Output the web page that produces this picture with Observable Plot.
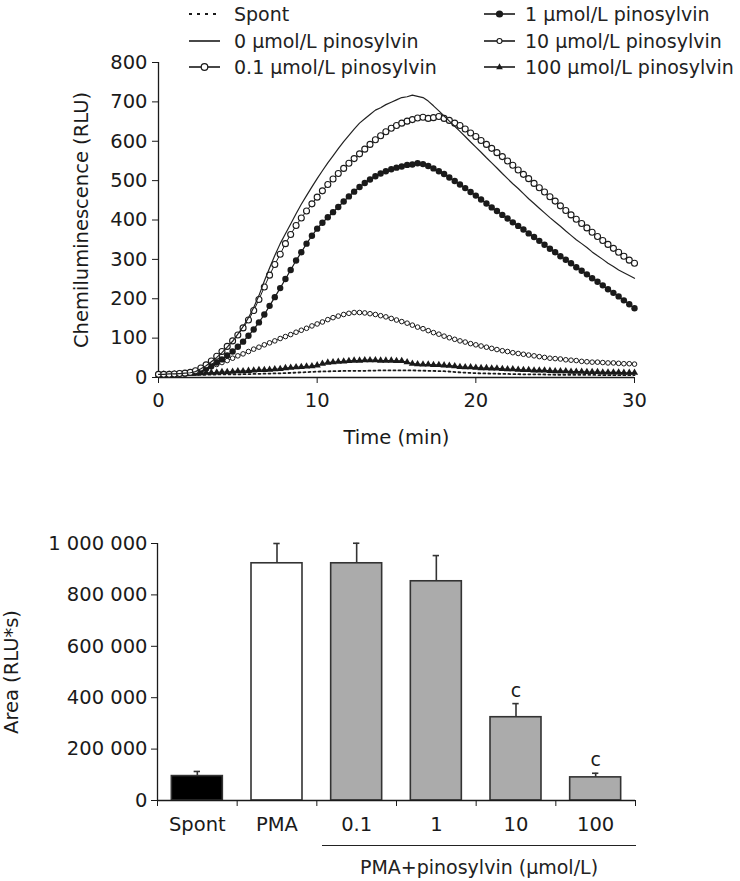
<!DOCTYPE html>
<html>
<head>
<meta charset="utf-8">
<script src="https://cdn.jsdelivr.net/npm/d3@7"></script>
<script src="https://cdn.jsdelivr.net/npm/@observablehq/plot@0.6"></script>
<style>
  body { margin: 0; background: #fff; }
  #wrap { position: relative; width: 740px; height: 881px; font-family: "DejaVu Sans", sans-serif; color: #222; background: #fff; }
  #topChart, #bottomChart { position: absolute; left: 0; }
  #topChart { top: 0; }
  #bottomChart { top: 470px; }
  .lg { position: absolute; display: flex; align-items: center; font-size: 19px; line-height: 22px; height: 22px; white-space: nowrap; color: #222; }
  .lg svg { flex: none; }
  #bracket { position: absolute; left: 322px; top: 845px; width: 314px; border-top: 1.5px solid #222; text-align: center; font-size: 19px; line-height: 22px; padding-top: 10px; color: #222; }
</style>
</head>
<body>
<div id="wrap">
  <div id="topChart"></div>
  <div id="bottomChart"></div>
  <div id="legend"></div>
  <div id="bracket"></div>
</div>
<script>
// ---------------- data: kinetics (top panel), readings every 20 s ----------------
const TIME = [0,0.33,0.67, 1,1.33,1.67, 2,2.33,2.67, 3,3.33,3.67, 4,4.33,4.67, 5,5.33,5.67, 6,6.33,6.67, 7,7.33,7.67, 8,8.33,8.67, 9,9.33,9.67,
  10,10.33,10.67, 11,11.33,11.67, 12,12.33,12.67, 13,13.33,13.67, 14,14.33,14.67, 15,15.33,15.67, 16,16.33,16.67, 17,17.33,17.67, 18,18.33,18.67, 19,19.33,19.67,
  20,20.33,20.67, 21,21.33,21.67, 22,22.33,22.67, 23,23.33,23.67, 24,24.33,24.67, 25,25.33,25.67, 26,26.33,26.67, 27,27.33,27.67, 28,28.33,28.67, 29,29.33,29.67, 30];
const SPONT_TIME = [0,1,2,3,4,5,6,7,8,9,10,11,12,13,14,15,16,17,18,19,20,21,22,23,24,25,26,27,28,29,30];
const SPONT = [6,6,7,7,8,8,9,10,11,13,15,16,17,17,18,18,18,17,16,13,11,10,9,8,8,7,7,7,6,6,6];
const PMA0 = [8,8,9, 9,10,11, 12,15,22, 30,40,51, 63,77,92, 110,129,152, 178,208,245, 278,310,340, 365,390,416, 440,462,484,
  505,525,545, 563,581,599, 615,631,646, 657,668,679, 685,693,699, 705,711,713, 717,714,711, 702,690,677, 664,651,638, 625,612,598,
  585,572,558, 545,532,518, 505,492,480, 467,454,442, 430,418,406, 395,384,372, 361,350,340, 330,319,309, 300,290,282, 273,266,259, 252];
const PIN01 = [8,8,8, 9,10,11, 13,17,24, 32,42,54, 66,79,93, 108,126,146, 170,198,230, 260,287,313, 340,363,386, 405,423,441,
  458,474,490, 504,518,531, 544,556,568, 580,592,604, 614,624,633, 640,646,651, 655,659,661, 658,660,663, 658,653,646, 640,631,621,
  612,602,592, 582,571,561, 550,539,527, 516,505,493, 482,471,459, 448,436,424, 413,402,391, 380,369,358, 348,338,328, 318,308,298, 290];
const PIN1 = [8,8,8, 9,10,10, 12,14,19, 23,29,38, 46,56,66, 78,91,106, 122,140,160, 182,204,227, 250,273,297, 318,340,360,
  378,393,407, 420,433,447, 460,472,484, 494,503,511, 518,524,529, 533,536,540, 541,544,542, 537,531,524, 517,508,499, 490,481,471,
  462,452,442, 432,423,413, 404,394,385, 376,366,357, 347,337,327, 318,308,299, 290,280,271, 262,252,243, 234,224,215, 206,196,186, 176];
const PIN10 = [8,8,8, 9,10,10, 12,14,18, 22,27,33, 38,43,49, 55,60,66, 72,77,83, 88,93,99, 104,109,115, 120,125,131,
  136,141,147, 152,156,160, 163,165,165, 164,162,160, 157,154,150, 146,142,138, 133,128,124, 119,114,110, 105,101,97, 93,90,86,
  83,80,77, 74,71,68, 66,63,61, 59,57,55, 53,51,49, 48,47,45, 44,43,41, 40,39,39, 38,37,37, 36,35,35, 34];
const PIN100 = [8,8,8, 8,9,9, 10,10,11, 12,12,13, 14,14,15, 16,16,17, 18,19,19, 20,21,22, 24,25,26, 27,28,29,
  31,35,38, 39,40,41, 42,43,43, 44,44,44, 43,43,43, 42,42,39, 35,34,33, 33,32,32, 31,30,29, 27,26,26,
  25,24,24, 23,23,22, 21,21,20, 19,19,18, 18,18,17, 16,16,16, 15,15,15, 14,14,14, 13,13,13, 13,12,12, 12];
const SERIES_NAMES = ["Spont", "0 µmol/L pinosylvin", "0.1 µmol/L pinosylvin", "1 µmol/L pinosylvin", "10 µmol/L pinosylvin", "100 µmol/L pinosylvin"];
const X_TICKS_TOP = [0, 10, 20, 30];
const Y_TICKS_TOP = [0, 100, 200, 300, 400, 500, 600, 700, 800];
const X_LABEL_TOP = "Time (min)";
const Y_LABEL_TOP = "Chemiluminescence (RLU)";

// ---------------- data: area (bottom panel) ----------------
const BAR_LABELS = ["Spont", "PMA", "0.1", "1", "10", "100"];
const BAR_MEANS = [95000, 923000, 923000, 853000, 324000, 90000];
const BAR_ERRORS = [18000, 77000, 78000, 100000, 53000, 16000];
const BAR_SIG = ["", "", "", "", "c", "c"];
const Y_TICKS_BOTTOM = [0, 200000, 400000, 600000, 800000, 1000000];
const Y_LABEL_BOTTOM = "Area (RLU*s)";
const GROUP_LABEL = "PMA+pinosylvin (µmol/L)";

// ---------------- styles ----------------
const INK = "#1a1a1a";
const BAR_FILLS = ["#000000", "#ffffff", "#ababab", "#ababab", "#ababab", "#ababab"];
const FONT = "'DejaVu Sans', sans-serif";

const rows = (xs, ys) => xs.map((x, i) => ({x, y: ys[i]}));
const rSpont = rows(SPONT_TIME, SPONT);
const r0 = rows(TIME, PMA0);
const r01 = rows(TIME, PIN01);
const r1 = rows(TIME, PIN1);
const r10 = rows(TIME, PIN10);
const r100 = rows(TIME, PIN100);

const topChart = Plot.plot({
  width: 740, height: 470,
  marginTop: 62, marginRight: 106, marginBottom: 93, marginLeft: 158,
  style: {fontFamily: FONT, fontSize: "19.5px", color: INK, background: "transparent", overflow: "visible"},
  x: {domain: [0, 30]},
  y: {domain: [0, 800]},
  marks: [
    Plot.axisY({ticks: Y_TICKS_TOP, tickSize: 6, tickPadding: 5, label: Y_LABEL_TOP, labelAnchor: "center", labelOffset: 84, labelArrow: "none"}),
    Plot.axisX({ticks: X_TICKS_TOP, tickSize: 6, tickPadding: 10, label: X_LABEL_TOP, labelAnchor: "center", labelOffset: 66, labelArrow: "none"}),
    Plot.ruleX([0], {stroke: INK, strokeWidth: 1.3}),
    Plot.ruleY([0], {stroke: INK, strokeWidth: 1.3}),
    Plot.line(rSpont, {x: "x", y: "y", stroke: INK, strokeWidth: 1.8, strokeDasharray: "2,3"}),
    Plot.line(r100, {x: "x", y: "y", stroke: INK, strokeWidth: 1.2}),
    Plot.dot(r100, {x: "x", y: "y", symbol: "triangle", r: 2.7, fill: INK, stroke: "none"}),
    Plot.line(r10, {x: "x", y: "y", stroke: INK, strokeWidth: 1}),
    Plot.dot(r10, {x: "x", y: "y", r: 2.3, fill: "white", stroke: INK, strokeWidth: 1}),
    Plot.line(r1, {x: "x", y: "y", stroke: INK, strokeWidth: 1.2}),
    Plot.dot(r1, {x: "x", y: "y", r: 3.2, fill: INK, stroke: "none"}),
    Plot.line(r01, {x: "x", y: "y", stroke: INK, strokeWidth: 1}),
    Plot.dot(r01, {x: "x", y: "y", r: 3, fill: "white", stroke: INK, strokeWidth: 1.1}),
    Plot.line(r0, {x: "x", y: "y", stroke: "#222", strokeWidth: 1.2})
  ]
});
document.getElementById("topChart").append(topChart);

// ---------------- legend ----------------
const legendSymbols = [
  `<line x1="1" y1="7" x2="32" y2="7" stroke="${INK}" stroke-width="1.8" stroke-dasharray="3,5"/>`,
  `<line x1="1" y1="7" x2="32" y2="7" stroke="${INK}" stroke-width="1.6"/>`,
  `<line x1="1" y1="7" x2="32" y2="7" stroke="${INK}" stroke-width="1.6"/><circle cx="16.5" cy="7" r="3.3" fill="white" stroke="${INK}" stroke-width="1.2"/>`,
  `<line x1="1" y1="7" x2="32" y2="7" stroke="${INK}" stroke-width="1.6"/><circle cx="16.5" cy="7" r="3.6" fill="${INK}"/>`,
  `<line x1="1" y1="7" x2="32" y2="7" stroke="${INK}" stroke-width="1.6"/><circle cx="16.5" cy="7" r="2.5" fill="white" stroke="${INK}" stroke-width="1.1"/>`,
  `<line x1="1" y1="7" x2="32" y2="7" stroke="${INK}" stroke-width="1.6"/><path d="M16.5,3.2L19.8,9.2L13.2,9.2Z" fill="${INK}"/>`
];
const legendPos = [
  {left: 188, top: 3, gap: 13}, {left: 188, top: 29.5, gap: 13}, {left: 188, top: 56, gap: 13},
  {left: 483, top: 3, gap: 9}, {left: 483, top: 29.5, gap: 9}, {left: 483, top: 56, gap: 9}
];
const legend = document.getElementById("legend");
SERIES_NAMES.forEach((name, i) => {
  const p = legendPos[i];
  const el = document.createElement("div");
  el.className = "lg";
  el.style.left = p.left + "px";
  el.style.top = p.top + "px";
  el.innerHTML = `<svg width="33" height="14" style="margin-right:${p.gap}px">${legendSymbols[i]}</svg><span>${name}</span>`;
  legend.append(el);
});

// ---------------- bottom panel ----------------
const fmtSpace = d3.formatLocale({decimal: ".", thousands: " ", grouping: [3], currency: ["", ""]}).format(",");
const bars = BAR_LABELS.map((label, i) => ({
  i, label, mean: BAR_MEANS[i], err: BAR_ERRORS[i], top: BAR_MEANS[i] + BAR_ERRORS[i], sig: BAR_SIG[i]
}));
const X_MIN = -0.5, X_MAX = BAR_LABELS.length - 0.5;
const boundaries = d3.range(X_MIN, X_MAX + 0.01, 1);
const HALF = 0.32, CAP = 0.04;

const bottomChart = Plot.plot({
  width: 740, height: 411,
  marginTop: 73, marginRight: 105, marginBottom: 81, marginLeft: 157,
  style: {fontFamily: FONT, fontSize: "19.5px", color: INK, background: "transparent", overflow: "visible"},
  x: {domain: [X_MIN, X_MAX]},
  y: {domain: [0, 1000000]},
  marks: [
    Plot.axisY({ticks: Y_TICKS_BOTTOM, tickFormat: fmtSpace, tickSize: 6, tickPadding: 4, label: Y_LABEL_BOTTOM, labelAnchor: "center", labelOffset: 153, labelArrow: "none"}),
    Plot.axisX({ticks: boundaries, tickFormat: () => "", tickSize: 6, label: null}),
    Plot.axisX({ticks: bars.map(d => d.i), tickFormat: i => BAR_LABELS[i], tickSize: 0, tickPadding: 17, label: null}),
    Plot.rectY(bars, {x1: d => d.i - HALF, x2: d => d.i + HALF, y1: 0, y2: "mean", fill: d => BAR_FILLS[d.i], stroke: "#333", strokeWidth: 1.6}),
    Plot.ruleX(bars, {x: "i", y1: "mean", y2: "top", stroke: "#333", strokeWidth: 1.6}),
    Plot.ruleY(bars, {y: "top", x1: d => d.i - CAP, x2: d => d.i + CAP, stroke: "#333", strokeWidth: 1.6}),
    Plot.text(bars.filter(d => d.sig), {x: "i", y: "top", text: "sig", dy: -13, fontSize: 19, fill: INK}),
    Plot.ruleX([X_MIN], {stroke: INK, strokeWidth: 1.3}),
    Plot.ruleY([0], {stroke: INK, strokeWidth: 1.3})
  ]
});
document.getElementById("bottomChart").append(bottomChart);
document.getElementById("bracket").textContent = GROUP_LABEL;
</script>
</body>
</html>
